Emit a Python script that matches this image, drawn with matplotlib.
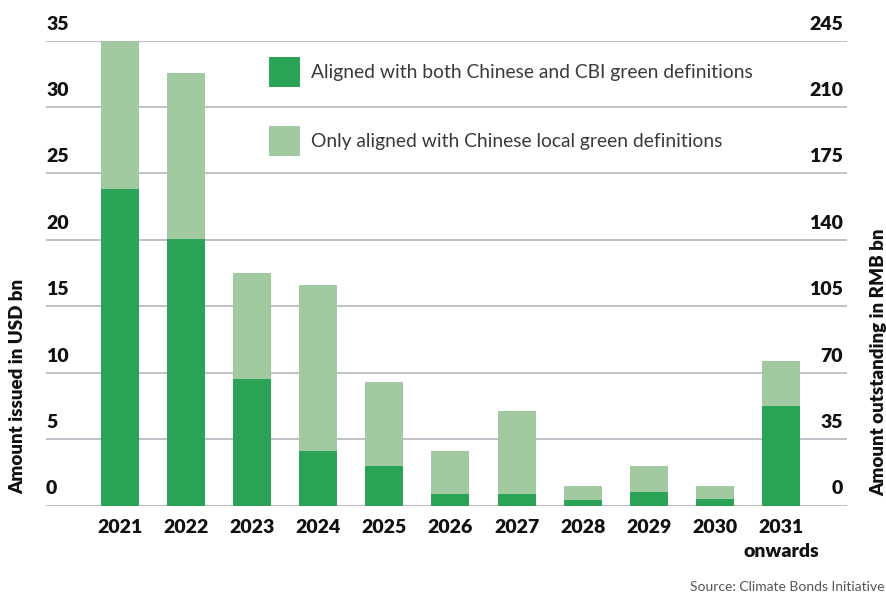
import matplotlib.pyplot as plt
import matplotlib.transforms as mtransforms
import numpy as np

plt.rcParams['font.family'] = ['Lato', 'DejaVu Sans']

years = ['2021', '2022', '2023', '2024', '2025', '2026', '2027', '2028', '2029', '2030', '2031\nonwards']
both_aligned = [23.8, 20.05, 9.5, 4.1, 2.95, 0.85, 0.85, 0.4, 1.0, 0.5, 7.5]
local_only = [11.2, 12.5, 8.0, 12.5, 6.35, 3.25, 6.25, 1.05, 1.95, 0.95, 3.35]
usd_ticks = [0, 5, 10, 15, 20, 25, 30, 35]
rmb_ticks = [0, 35, 70, 105, 140, 175, 210, 245]

dark = '#2aa357'
light = '#a1caa1'
grid_col = '#aeaeb8'
text_col = '#111111'
bold = 'heavy'

fig = plt.figure(figsize=(8.87, 5.95), dpi=100)
ax = fig.add_axes([46 / 887, 89.5 / 595, (847 - 46) / 887, 465 / 595])

x = np.arange(len(years))
ax.bar(x, both_aligned, width=0.575, color=dark, zorder=2,
       label='Aligned with both Chinese and CBI green definitions')
ax.bar(x, local_only, width=0.575, bottom=both_aligned, color=light, zorder=2,
       label='Only aligned with Chinese local green definitions')

ax.set_xlim(-1.12, 11.0)
ax.set_ylim(0, 35)
for s in ax.spines.values():
    s.set_visible(False)
for v in usd_ticks:
    ax.axhline(v, color=grid_col, lw=1.1, zorder=1)

ax.set_yticks([])
ax.set_xticks(x)
ax.set_xticklabels(years, fontsize=14, fontweight=bold, color=text_col, linespacing=1.5, va='top')
ax.tick_params(axis='x', length=0, pad=10)

# tick labels sit above their gridlines
up = mtransforms.ScaledTranslation(0, 8 / 100, fig.dpi_scale_trans)
lt = mtransforms.blended_transform_factory(ax.transAxes, ax.transData) + up
for v in usd_ticks:
    ax.text(0, v, str(v), transform=lt, ha='left', va='bottom',
            fontsize=14, fontweight=bold, color=text_col)

ax2 = ax.twinx()
ax2.set_ylim(0, 245)
ax2.set_yticks([])
for s in ax2.spines.values():
    s.set_visible(False)
rt = mtransforms.blended_transform_factory(ax2.transAxes, ax2.transData) + up
for v in rmb_ticks:
    ax2.text(0.995, v, str(v), transform=rt, ha='right', va='bottom',
             fontsize=14, fontweight=bold, color=text_col)

fig.text(18 / 887, 1 - 494 / 595, 'Amount issued in USD bn', rotation=90,
         ha='center', va='bottom', fontsize=13.5, fontweight=bold, color=text_col)
fig.text(879 / 887, 1 - 496 / 595, 'Amount outstanding in RMB bn', rotation=90,
         ha='center', va='bottom', fontsize=13.5, fontweight=bold, color=text_col)

leg = ax.legend(loc='upper left', bbox_to_anchor=(269 / 887, 1 - 57 / 595),
                bbox_transform=fig.transFigure, frameon=False,
                prop={'size': 13.9},
                handlelength=1.63, handleheight=2.0, handletextpad=0.55,
                labelspacing=2.05, borderpad=0, borderaxespad=0)
for t in leg.get_texts():
    t.set_color('#3a3a3a')

fig.text(885 / 887, 1 - 587 / 595, 'Source: Climate Bonds Initiative',
         ha='right', va='center', fontsize=10, color='#555555')

fig.savefig('out.png', dpi=100)
